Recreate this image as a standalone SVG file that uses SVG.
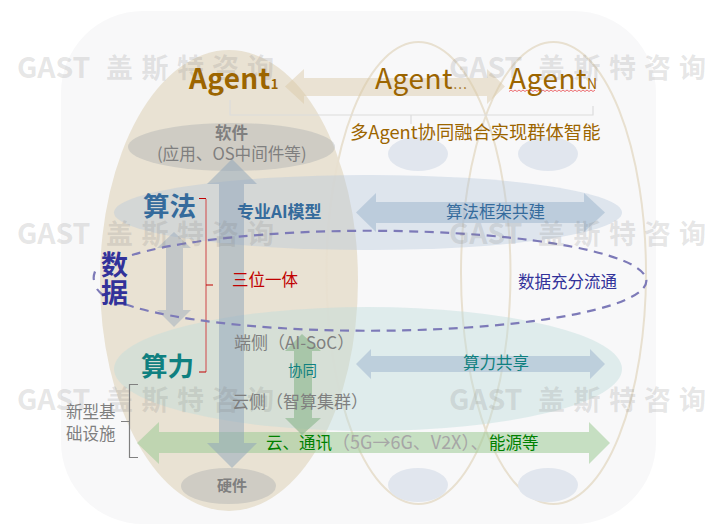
<svg xmlns="http://www.w3.org/2000/svg" width="723" height="532" viewBox="0 0 723 532">
<style>
text{font-family:"Noto Sans CJK SC","Noto Sans",sans-serif}
.b{font-weight:700}
.wm{font-weight:700;font-size:27px;fill:#808080;fill-opacity:.2}
.wl{font-size:28.500px}
.ag{fill:#9c6500}
.gr{fill:#7f7f7f}
.lg{fill:#a6a6a6}
.gn{fill:#008000}
.bl{fill:#356b9c}
.tl{fill:#0f8080}
.pu{fill:#32329a}
.re{fill:#c00000}
.out{fill:none;stroke:#e8e0d0;stroke-width:2}
.sm{fill:#e1e6ee}
.br{fill:none;stroke-width:1.2}
</style>
<rect x="61" y="11" width="595" height="513" rx="82" fill="#f8f8f9"/>
<g id="agent-1"><ellipse cx="229" cy="280.500" rx="129" ry="230.500" fill="#e9e2d3"/></g>
<g id="agent-mid"><ellipse cx="418.500" cy="273" rx="92" ry="231" class="out"/><ellipse cx="418" cy="154" rx="30" ry="17" class="sm"/><ellipse cx="418" cy="485" rx="30" ry="17" class="sm"/></g>
<g id="agent-n"><ellipse cx="553.500" cy="273" rx="92.500" ry="231" class="out"/><ellipse cx="548" cy="154" rx="30" ry="17" class="sm"/><ellipse cx="548" cy="485" rx="30" ry="17" class="sm"/></g>
<g id="software"><ellipse cx="231.500" cy="147" rx="103.500" ry="24" fill="#a8adb0" fill-opacity=".4"/></g>
<g id="hardware"><ellipse cx="228.500" cy="486" rx="47.500" ry="18" fill="#a8adb0" fill-opacity=".4"/></g>
<g id="algorithm"><ellipse cx="368" cy="212.500" rx="254" ry="37.500" fill="#b4c4da" fill-opacity=".38"/></g>
<g id="compute"><ellipse cx="368" cy="369" rx="254" ry="62" fill="#bcdcdc" fill-opacity=".42"/></g>
<g id="connectors">
<path d="M285 86.500L304 69V78H487V69L505 86.500L487 104V96H304V104Z" fill="#d9c7a3" fill-opacity=".45"/>
<path d="M137 443L159 422V432H589V422L610 443L589 464V453H159V464Z" fill="#9ccb96" fill-opacity=".55"/>
<path d="M232 159L257 184H244V443H257L232 468L207 443H219V184H207Z" fill="#8ea3ba" fill-opacity=".5"/>
<path d="M174 232L191 248H183V310H191L174 327L157 310H166V248H157Z" fill="#8ea3ba" fill-opacity=".42"/>
<path d="M356 212.500L376 193V202H584V193L605 212.500L584 232V223H376V232Z" fill="#a8bdd2" fill-opacity=".62"/>
<path d="M356 364L371 349V356H590V349L605 364L590 379V372H371V379Z" fill="#a8bdd2" fill-opacity=".62"/>
<path d="M302 334L321 351H312V418H321L302 435L285 418H294V351H285Z" fill="#88b68a" fill-opacity=".6"/>
<path d="M230 100V115H593V106M411 115V124" fill="none" stroke="#dcdcdc" stroke-width="1.200"/>
<path d="M206 199V372" class="br" stroke="#d25f5f"/>
<path d="M199 198.500H206M199 372H206M206 285H213" class="br" stroke="#c00000"/>
<path d="M138 384.500H129.500V457.500H138M121 421.500H129.500" class="br" stroke="#808080"/>
<path d="M132 255A277 50 0 1 1 123 303.600M95 271.500Q93 277 94 280M97 289Q99 292 104 296" fill="none" stroke="#7d7ab8" stroke-width="2.200" stroke-dasharray="9 6.500"/>
<path d="M509 91.500l2-1.500 2 1.500 2-1.500 2 1.500 2-1.500 2 1.500 2-1.500 2 1.500 2-1.500 2 1.500 2-1.500 2 1.500 2-1.500 2 1.500 2-1.500 2 1.500 2-1.500 2 1.500 2-1.500 2 1.500 2-1.500 2 1.500 2-1.500 2 1.500 2-1.500 2 1.500 2-1.500 2 1.500 2-1.500 2 1.500 2-1.500 2 1.500 2-1.500 2 1.500 2-1.500 2 1.500 2-1.500 2 1.500 2-1.500 2 1.500 2-1.500 2 1.500 2-1.500" fill="none" stroke="#e8474c" stroke-width=".8"/>
</g>
<g id="watermark">
<text class="wm" y="78"><tspan x="17" class="wl">GAST</tspan><tspan x="106">盖</tspan><tspan x="141.500">斯</tspan><tspan x="177">特</tspan><tspan x="212">咨</tspan><tspan x="247">询</tspan></text>
<text class="wm" y="244"><tspan x="17" class="wl">GAST</tspan><tspan x="106">盖</tspan><tspan x="141.500">斯</tspan><tspan x="177">特</tspan><tspan x="212">咨</tspan><tspan x="247">询</tspan></text>
<text class="wm" y="410"><tspan x="17" class="wl">GAST</tspan><tspan x="106">盖</tspan><tspan x="141.500">斯</tspan><tspan x="177">特</tspan><tspan x="212">咨</tspan><tspan x="247">询</tspan></text>
<text class="wm" y="78"><tspan x="449" class="wl">GAST</tspan><tspan x="538">盖</tspan><tspan x="573.500">斯</tspan><tspan x="609">特</tspan><tspan x="644">咨</tspan><tspan x="679">询</tspan></text>
<text class="wm" y="244"><tspan x="449" class="wl">GAST</tspan><tspan x="538">盖</tspan><tspan x="573.500">斯</tspan><tspan x="609">特</tspan><tspan x="644">咨</tspan><tspan x="679">询</tspan></text>
<text class="wm" y="410"><tspan x="449" class="wl">GAST</tspan><tspan x="538">盖</tspan><tspan x="573.500">斯</tspan><tspan x="609">特</tspan><tspan x="644">咨</tspan><tspan x="679">询</tspan></text>
</g>
<g id="labels">
<text x="189" y="89" class="ag b" font-size="28" letter-spacing=".3">Agent<tspan font-size="13">1</tspan></text>
<text x="375" y="89" class="ag" font-size="28" letter-spacing=".5">Agent<tspan font-size="13">…</tspan></text>
<text x="509" y="89" class="ag" font-size="28" letter-spacing=".5">Agent<tspan font-size="14">N</tspan></text>
<text x="350" y="139" class="ag" font-size="18.300">多Agent协同融合实现群体智能</text>
<text x="215" y="139" class="gr b" font-size="16.500">软件</text>
<text x="157" y="160" class="gr" font-size="16.600">(应用、OS中间件等)</text>
<text x="143" y="216" class="bl b" font-size="26.500">算法</text>
<text x="237" y="218" class="bl b" font-size="17">专业AI模型</text>
<text x="446" y="218" class="bl" font-size="16.500">算法框架共建</text>
<text x="101" y="275" class="pu b" font-size="27">数</text>
<text x="101" y="303" class="pu b" font-size="27">据</text>
<text x="232" y="286" class="re" font-size="16.500">三位一体</text>
<text x="518" y="288" class="pu" font-size="16.500">数据充分流通</text>
<text x="141" y="376" class="tl b" font-size="26.500">算力</text>
<text x="234" y="349" class="gr" font-size="17">端侧（AI-SoC）</text>
<text x="288" y="376" class="tl" font-size="14.500">协同</text>
<text x="463" y="369" class="tl" font-size="16.500">算力共享</text>
<text x="232" y="408" class="gr" font-size="17">云侧（智算集群）</text>
<text x="66" y="418" class="gr" font-size="16.500">新型基</text>
<text x="66" y="440" class="gr" font-size="16.500">础设施</text>
<text y="449" font-size="16.500"><tspan x="266" class="gn">云、通讯</tspan><tspan x="332" class="lg" font-size="18">（5G→6G、V2X）、</tspan><tspan x="489" class="gn">能源等</tspan></text>
<text x="217" y="491" class="gr b" font-size="15">硬件</text>
</g>
</svg>
